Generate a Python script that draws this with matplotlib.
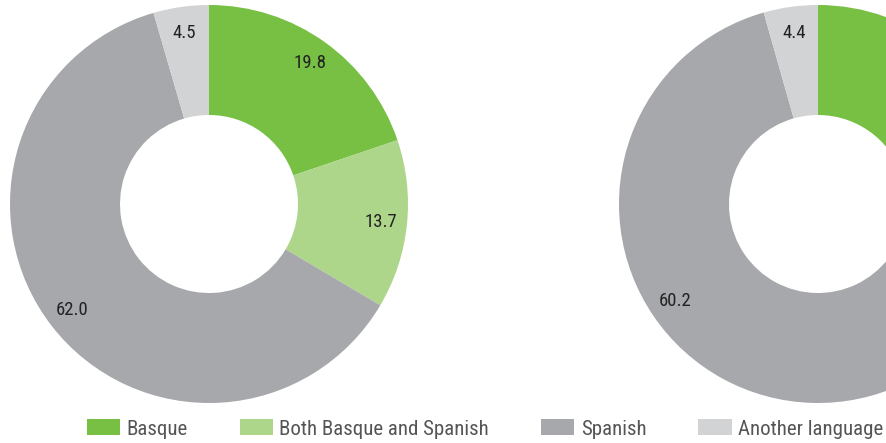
import matplotlib.pyplot as plt
from matplotlib import font_manager

# values (clockwise from 12 o'clock)
categories = ["Basque", "Both Basque and Spanish", "Spanish", "Another language"]
left_values = [19.8, 13.7, 62.0, 4.5]
right_values = [21.9, 13.5, 60.2, 4.4]  # first two are hidden by the crop, estimated
colors = ["#77c043", "#aed68b", "#a7a8ab", "#d2d3d5"]

# the original uses a narrow DIN-like face; take the narrowest one installed
installed = {f.name for f in font_manager.fontManager.ttflist}
narrow = "DejaVu Sans"
for name in ["Roboto Condensed", "Liberation Sans Narrow", "Open Sans Condensed",
             "DejaVu Sans Condensed", "Noto Sans Condensed"]:
    if name in installed:
        narrow = name
        break
plt.rcParams['font.family'] = [narrow, 'DejaVu Sans']

W, H = 887, 443
fig = plt.figure(figsize=(W / 100, H / 100), dpi=100)


def donut(cx, cy, r, values):
    # axes placed in pixel terms, centre (cx, cy) from top-left
    ax = fig.add_axes([(cx - r) / W, (H - cy - r) / H, 2 * r / W, 2 * r / H])
    wedges, _, autotexts = ax.pie(values, colors=colors, startangle=90, counterclock=False,
                                  radius=1, wedgeprops=dict(width=1 - 89 / 199, linewidth=0),
                                  autopct=lambda p: f"{p:.1f}", pctdistance=0.87,
                                  textprops=dict(color="#222222", fontsize=13.5))
    ax.set_xlim(-1, 1)
    ax.set_ylim(-1, 1)
    ax.set_aspect('equal')
    return wedges


wedges = donut(209, 204, 199, left_values)
donut(818, 204, 199, right_values)

fig.legend(wedges, categories, loc='center left', bbox_to_anchor=(68 / W, 1 - 429 / H),
           ncol=4, frameon=False, fontsize=15, handlelength=1.6, handleheight=0.8,
           handletextpad=0.3, columnspacing=2.5, labelcolor="#555555")

fig.savefig("out.png", dpi=100)
